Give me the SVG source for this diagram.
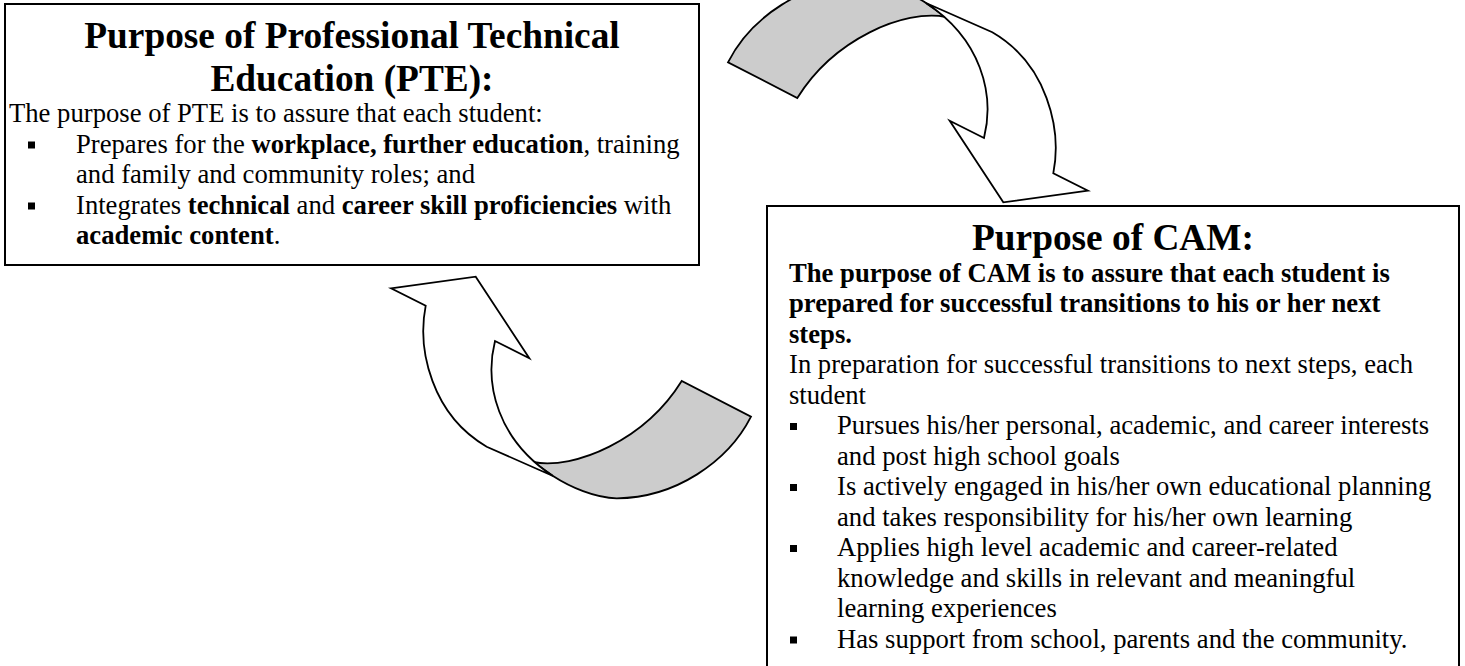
<svg xmlns="http://www.w3.org/2000/svg" xmlns:xlink="http://www.w3.org/1999/xlink" width="1465" height="666" viewBox="0 0 1465 666">
  <style>
    .box { fill: #ffffff; stroke: #000000; stroke-width: 2; }
    .title { font-family: "Liberation Serif", "Times New Roman", serif; font-size: 37.33px; font-weight: bold; fill: #000; text-anchor: middle; }
    .body { font-family: "Liberation Serif", "Times New Roman", serif; font-size: 26.67px; fill: #000; }
    .b { font-weight: bold; }
    .bullet { fill: #000; }
    .back { fill: #cccccc; stroke: #000; stroke-width: 1.8; stroke-linejoin: miter; }
    .front { fill: #ffffff; stroke: #000; stroke-width: 1.8; stroke-linejoin: miter; }
  </style>
  <defs>
    <g id="curvedArrow">
      <path class="back" d="M 533,462 C 575,470 645,440 681.7,381 L 751,416.7 C 728,462 675,498 616.7,498.3 C 595,498 570,487 553,476 Z"/>
      <path class="front" d="M 391,288.3 L 475.7,276.7 L 529.3,358.3 L 495,341 C 484,385 498,440 553,476 L 486.7,446.7 C 432,415 417,350 425.7,305.7 Z"/>
    </g>
  </defs>
  <rect width="1465" height="666" fill="#ffffff"/>

  <g id="connectors">
    <use xlink:href="#curvedArrow" href="#curvedArrow"/>
    <use xlink:href="#curvedArrow" href="#curvedArrow" transform="rotate(180 739.5 239.5)"/>
  </g>

  <g id="pte">
    <rect class="box" x="5" y="4" width="694" height="261"/>
    <text class="title" x="352" y="48">Purpose of Professional Technical</text>
    <text class="title" x="352" y="91">Education (PTE):</text>
    <text class="body" x="9" y="122">The purpose of PTE is to assure that each student:</text>
    <rect class="bullet" x="28" y="141.5" width="7" height="7"/>
    <text class="body" x="76" y="152.5">Prepares for the <tspan class="b">workplace, further education</tspan>, training</text>
    <text class="body" x="76" y="183">and family and community roles; and</text>
    <rect class="bullet" x="28" y="202.5" width="7" height="7"/>
    <text class="body" x="76" y="213.5">Integrates <tspan class="b">technical</tspan> and <tspan class="b">career skill proficiencies</tspan> with</text>
    <text class="body" x="76" y="244"><tspan class="b">academic content</tspan>.</text>
  </g>

  <g id="cam">
    <rect class="box" x="767" y="206" width="692" height="480"/>
    <text class="title" x="1113" y="250">Purpose of CAM:</text>
    <text class="body b" x="789" y="281.5">The purpose of CAM is to assure that each student is</text>
    <text class="body b" x="789" y="312">prepared for successful transitions to his or her next</text>
    <text class="body b" x="789" y="342.5">steps.</text>
    <text class="body" x="789" y="373">In preparation for successful transitions to next steps, each</text>
    <text class="body" x="789" y="403.5">student</text>
    <rect class="bullet" x="790" y="423" width="7" height="7"/>
    <text class="body" x="837" y="434">Pursues his/her personal, academic, and career interests</text>
    <text class="body" x="837" y="464.5">and post high school goals</text>
    <rect class="bullet" x="790" y="484" width="7" height="7"/>
    <text class="body" x="837" y="495">Is actively engaged in his/her own educational planning</text>
    <text class="body" x="837" y="525.5">and takes responsibility for his/her own learning</text>
    <rect class="bullet" x="790" y="545" width="7" height="7"/>
    <text class="body" x="837" y="556">Applies high level academic and career-related</text>
    <text class="body" x="837" y="586.5">knowledge and skills in relevant and meaningful</text>
    <text class="body" x="837" y="617">learning experiences</text>
    <rect class="bullet" x="790" y="636.5" width="7" height="7"/>
    <text class="body" x="837" y="647.5">Has support from school, parents and the community.</text>
  </g>
</svg>
